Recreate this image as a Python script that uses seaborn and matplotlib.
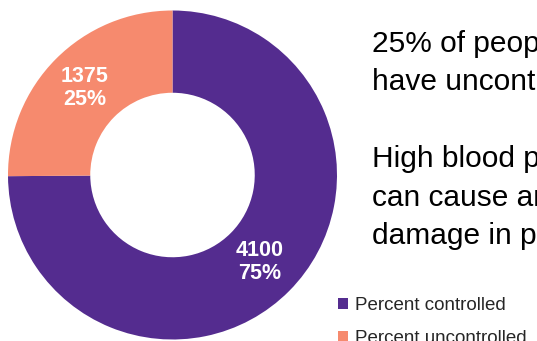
import matplotlib
matplotlib.use("Agg")
import matplotlib.pyplot as plt
from matplotlib.patches import Patch
import numpy as np
import seaborn as sns

categories = ["Percent controlled", "Percent uncontrolled"]
counts = [4100, 1375]
percents = [75, 25]
colors = ["#542C8F", "#F68A6E"]

headline_lines = ["25% of people", "have uncontrolled blood pressure"]
body_lines = ["High blood pressure", "can cause artery", "damage in people"]

sns.set_theme(style="white")
plt.rcParams["font.family"] = ["Liberation Sans", "DejaVu Sans"]

W, H = 537, 341
fig = plt.figure(figsize=(W / 100, H / 100), dpi=100)

cx, cy, r = 172.5, 175.0, 164.5
ax = fig.add_axes([(cx - r) / W, (H - cy - r) / H, 2 * r / W, 2 * r / H])
wedges, _ = ax.pie(counts, colors=colors, startangle=90, counterclock=False,
                   radius=1.0, wedgeprops=dict(width=0.5, linewidth=0))
ax.set_xlim(-1, 1)
ax.set_ylim(-1, 1)
ax.set_aspect("equal")
ax.axis("off")

theta = 90.0
total = sum(counts)
for c, p in zip(counts, percents):
    span = 360.0 * c / total
    mid = np.deg2rad(theta - span / 2)
    theta -= span
    ax.text(0.75 * np.cos(mid), 0.75 * np.sin(mid), f"{c}\n{p}%",
            ha="center", va="center", color="white", fontsize=15.5,
            fontweight="bold", linespacing=1.1)

def px(x, y):
    return x / W, 1 - y / H

for i, line in enumerate(headline_lines):
    fig.text(*px(372, 52.5 + 37 * i), line, fontsize=21.5, color="black",
             ha="left", va="baseline")
for i, line in enumerate(body_lines):
    fig.text(*px(372, 167 + 38.5 * i), line, fontsize=21.5, color="black",
             ha="left", va="baseline")

handles = [Patch(facecolor=c, edgecolor="none") for c in colors]
leg = fig.legend(handles, categories, loc="upper left",
                 bbox_to_anchor=px(338, 297), frameon=False, fontsize=13.5,
                 handlelength=0.55, handleheight=0.55, handletextpad=0.35,
                 labelspacing=0.85, borderpad=0, borderaxespad=0)

fig.savefig("out.png", dpi=100)
